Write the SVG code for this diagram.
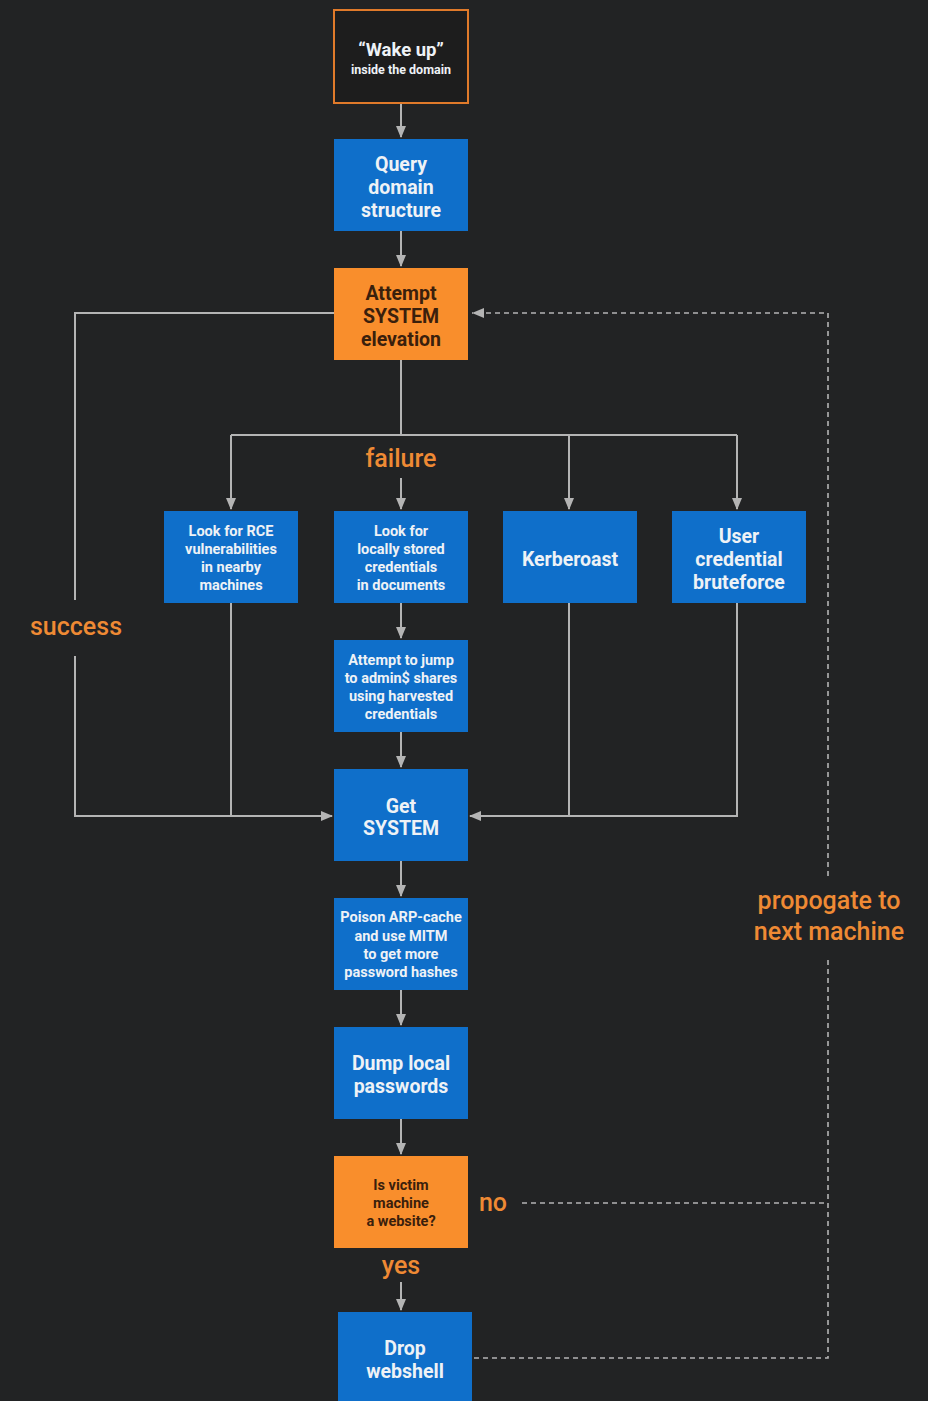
<svg xmlns="http://www.w3.org/2000/svg" width="928" height="1401" viewBox="0 0 928 1401">
<defs>
<marker id="ah" markerWidth="12" markerHeight="10" refX="11" refY="5" orient="auto" markerUnits="userSpaceOnUse">
<path d="M0,0 L12,5 L0,10 Z" fill="#b4b4b4"/>
</marker>
<style>
.bg{fill:#222324}
.blue{fill:#0f6fca}
.orange{fill:#f98e2c}
.wake{fill:#1d1d1d;stroke:#e07a2a;stroke-width:2}
.t{font-family:Roboto,"Liberation Sans",sans-serif;font-weight:700;text-anchor:middle;fill:#eef2f6}
.dk{fill:#3a200c}
.big{font-size:19.5px}
.sm{font-size:14.5px}
.lbl{font-family:Roboto,"Liberation Sans",sans-serif;font-weight:500;font-size:25px;fill:#ef8a34;text-anchor:middle}
.ln{stroke:#b4b4b4;stroke-width:2;fill:none}
.dash{stroke:#b4b4b4;stroke-width:1.6;fill:none;stroke-dasharray:5,4}
</style>
</defs>
<rect class="bg" x="0" y="0" width="928" height="1401"/>

<g id="connectors">
<path class="ln" d="M401,103 V137" marker-end="url(#ah)"/>
<path class="ln" d="M401,231 V266" marker-end="url(#ah)"/>
<path class="ln" d="M401,360 V435"/>
<path class="ln" d="M231,435 H737"/>
<path class="ln" d="M231,435 V509" marker-end="url(#ah)"/>
<path class="ln" d="M569,435 V509" marker-end="url(#ah)"/>
<path class="ln" d="M737,435 V509" marker-end="url(#ah)"/>
<path class="ln" d="M401,478 V509" marker-end="url(#ah)"/>
<path class="ln" d="M334,313 H75 V600"/>
<path class="ln" d="M75,656 V816 H332" marker-end="url(#ah)"/>
<path class="ln" d="M231,603 V816"/>
<path class="ln" d="M401,603 V638" marker-end="url(#ah)"/>
<path class="ln" d="M401,732 V767" marker-end="url(#ah)"/>
<path class="ln" d="M569,603 V816"/>
<path class="ln" d="M737,603 V816 H470" marker-end="url(#ah)"/>
<path class="ln" d="M401,861 V896" marker-end="url(#ah)"/>
<path class="ln" d="M401,990 V1025" marker-end="url(#ah)"/>
<path class="ln" d="M401,1119 V1154" marker-end="url(#ah)"/>
<path class="ln" d="M401,1282 V1310" marker-end="url(#ah)"/>
<path class="dash" d="M522,1203 H828"/>
<path class="dash" d="M474,1358 H828 V958"/>
<path class="dash" d="M828,876 V313 H472"/>
<path d="M472,313 L484,308 L484,318 Z" fill="#b4b4b4"/>
</g>

<g id="n-wake">
<rect class="wake" x="334" y="10" width="134" height="93"/>
<text class="t" x="401" y="56" font-size="18.5">“Wake up”</text>
<text class="t" x="401" y="74" font-size="12.5">inside the domain</text>
</g>
<g id="n-query">
<rect class="blue" x="334" y="139" width="134" height="92"/>
<text class="t big" x="401" y="171">Query</text>
<text class="t big" x="401" y="194">domain</text>
<text class="t big" x="401" y="217">structure</text>
</g>
<g id="n-attempt">
<rect class="orange" x="334" y="268" width="134" height="92"/>
<text class="t big dk" x="401" y="300">Attempt</text>
<text class="t big dk" x="401" y="323">SYSTEM</text>
<text class="t big dk" x="401" y="346">elevation</text>
</g>
<g id="n-rce">
<rect class="blue" x="164" y="511" width="134" height="92"/>
<text class="t sm" x="231" y="536">Look for RCE</text>
<text class="t sm" x="231" y="554">vulnerabilities</text>
<text class="t sm" x="231" y="572">in nearby</text>
<text class="t sm" x="231" y="590">machines</text>
</g>
<g id="n-local">
<rect class="blue" x="334" y="511" width="134" height="92"/>
<text class="t sm" x="401" y="536">Look for</text>
<text class="t sm" x="401" y="554">locally stored</text>
<text class="t sm" x="401" y="572">credentials</text>
<text class="t sm" x="401" y="590">in documents</text>
</g>
<g id="n-kerb">
<rect class="blue" x="503" y="511" width="134" height="92"/>
<text class="t big" x="570" y="566">Kerberoast</text>
</g>
<g id="n-brute">
<rect class="blue" x="672" y="511" width="134" height="92"/>
<text class="t big" x="739" y="543">User</text>
<text class="t big" x="739" y="566">credential</text>
<text class="t big" x="739" y="589">bruteforce</text>
</g>
<g id="n-jump">
<rect class="blue" x="334" y="640" width="134" height="92"/>
<text class="t sm" x="401" y="665">Attempt to jump</text>
<text class="t sm" x="401" y="683">to admin$ shares</text>
<text class="t sm" x="401" y="701">using harvested</text>
<text class="t sm" x="401" y="719">credentials</text>
</g>
<g id="n-getsys">
<rect class="blue" x="334" y="769" width="134" height="92"/>
<text class="t big" x="401" y="813">Get</text>
<text class="t big" x="401" y="835">SYSTEM</text>
</g>
<g id="n-arp">
<rect class="blue" x="334" y="898" width="134" height="92"/>
<text class="t sm" x="401" y="922">Poison ARP-cache</text>
<text class="t sm" x="401" y="941">and use MITM</text>
<text class="t sm" x="401" y="959">to get more</text>
<text class="t sm" x="401" y="977">password hashes</text>
</g>
<g id="n-dump">
<rect class="blue" x="334" y="1027" width="134" height="92"/>
<text class="t big" x="401" y="1070">Dump local</text>
<text class="t big" x="401" y="1093">passwords</text>
</g>
<g id="n-victim">
<rect class="orange" x="334" y="1156" width="134" height="92"/>
<text class="t sm dk" x="401" y="1190">Is victim</text>
<text class="t sm dk" x="401" y="1208">machine</text>
<text class="t sm dk" x="401" y="1226">a website?</text>
</g>
<g id="n-webshell">
<rect class="blue" x="338" y="1312" width="134" height="95"/>
<text class="t big" x="405" y="1355">Drop</text>
<text class="t big" x="405" y="1378">webshell</text>
</g>

<g id="labels">
<text class="lbl" x="401" y="467">failure</text>
<text class="lbl" x="76" y="635">success</text>
<text class="lbl" x="493" y="1211">no</text>
<text class="lbl" x="401" y="1274">yes</text>
<text class="lbl" x="829" y="909">propogate to</text>
<text class="lbl" x="829" y="940">next machine</text>
</g>
</svg>
